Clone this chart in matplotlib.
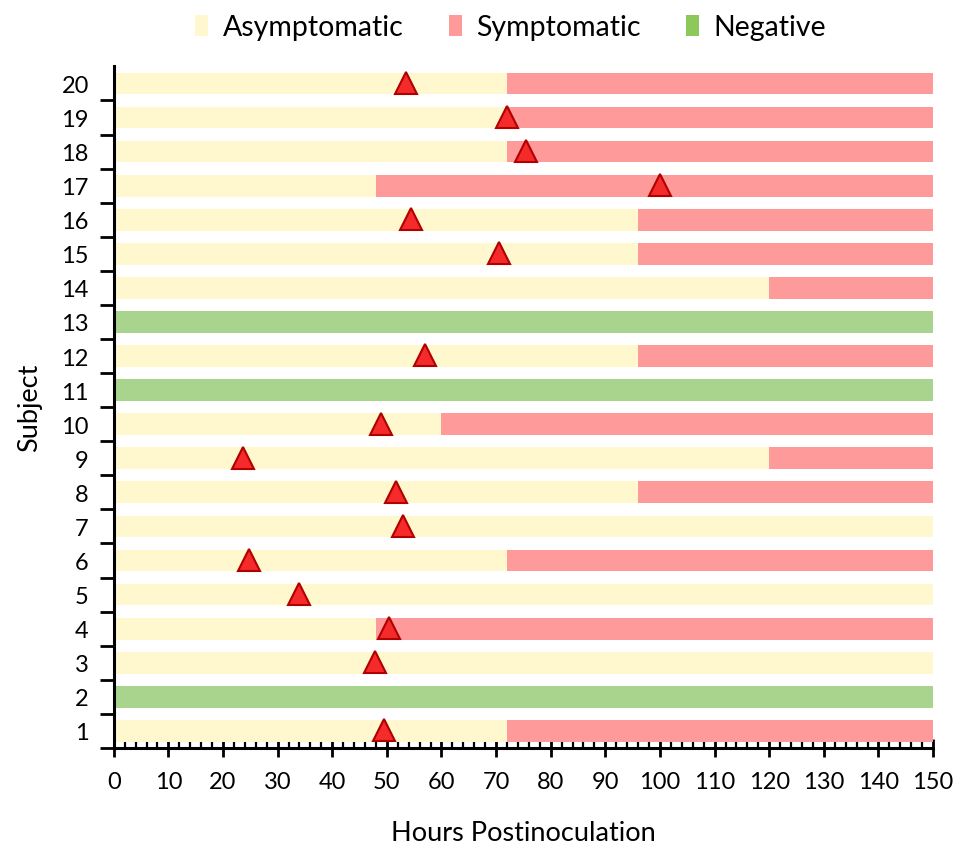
import matplotlib
matplotlib.use("Agg")
import matplotlib.pyplot as plt
from matplotlib.patches import Patch
from matplotlib.ticker import MultipleLocator

plt.rcParams['font.family'] = ['Lato', 'DejaVu Sans']

# Per-subject timeline (hours)
subjects = list(range(1, 21))
negative = [False, True, False, False, False, False, False, False, False, False,
            True, False, True, False, False, False, False, False, False, False]
symptom_onset = [72, None, None, 48, None, 72, None, 96, 120, 60,
                 None, 96, None, 120, 96, 96, 48, 72, 72, 72]
first_positive = [49.4, None, 47.8, 50.4, 34, 24.7, 53, 51.6, 23.6, 49,
                  None, 57, None, None, 70.5, 54.4, 100, 75.5, 72, 53.5]
end_hours = 150

c_asym = '#FFF8CF'
c_symp = '#FF9A9A'
c_neg = '#A9D48E'

fig = plt.figure(figsize=(9.56, 8.53), dpi=100)
ax = fig.add_axes([0.119, 0.122, 0.857, 0.799])

h = 0.64
for s, neg, onset in zip(subjects, negative, symptom_onset):
    if neg:
        ax.barh(s, end_hours, height=h, left=0, color=c_neg, zorder=2)
        continue
    asym_end = onset if onset is not None else end_hours
    ax.barh(s, asym_end, height=h, left=0, color=c_asym, zorder=2)
    if onset is not None:
        ax.barh(s, end_hours - onset, height=h, left=onset, color=c_symp, zorder=2)

tx = [t for t in first_positive if t is not None]
ty = [s for s, t in zip(subjects, first_positive) if t is not None]
ax.plot(tx, [y + 0.02 for y in ty], linestyle='none', marker='^', markersize=16,
        markerfacecolor='#F52A2A', markeredgecolor='#B00000', markeredgewidth=1.5,
        zorder=4, clip_on=False)

ax.set_xlim(0, 150)
ax.set_ylim(0.5, 20.5)
ax.xaxis.set_major_locator(MultipleLocator(10))
ax.xaxis.set_minor_locator(MultipleLocator(2))
ax.set_yticks([s + 0.5 for s in range(0, 20)], minor=False)
ax.set_yticklabels([])
ax.set_yticks(subjects, minor=True)
ax.set_yticklabels([str(s) for s in subjects], minor=True)

ax.tick_params(axis='x', which='major', direction='inout', length=13, width=2,
               labelsize=17, pad=10)
ax.tick_params(axis='x', which='minor', direction='in', length=6, width=1.6)
ax.tick_params(axis='y', which='major', direction='out', length=10, width=2)
ax.tick_params(axis='y', which='minor', length=0, labelsize=17, pad=18)

for side in ('top', 'right'):
    ax.spines[side].set_visible(False)
for side in ('left', 'bottom'):
    ax.spines[side].set_linewidth(2.2)
    ax.spines[side].set_zorder(5)

ax.set_xlabel('Hours Postinoculation', fontsize=19.5, labelpad=20)
ax.set_ylabel('Subject', fontsize=19.5, labelpad=14)

handles = [Patch(facecolor=c_asym, label='Asymptomatic'),
           Patch(facecolor=c_symp, label='Symptomatic'),
           Patch(facecolor='#8CC85A', label='Negative')]
fig.legend(handles=handles, loc='upper center', bbox_to_anchor=(0.534, 1.012), ncol=3,
           frameon=False, fontsize=20.5, handlelength=0.45, handleheight=0.75,
           handletextpad=0.5, columnspacing=1.6)

fig.savefig('out.png', dpi=100)
